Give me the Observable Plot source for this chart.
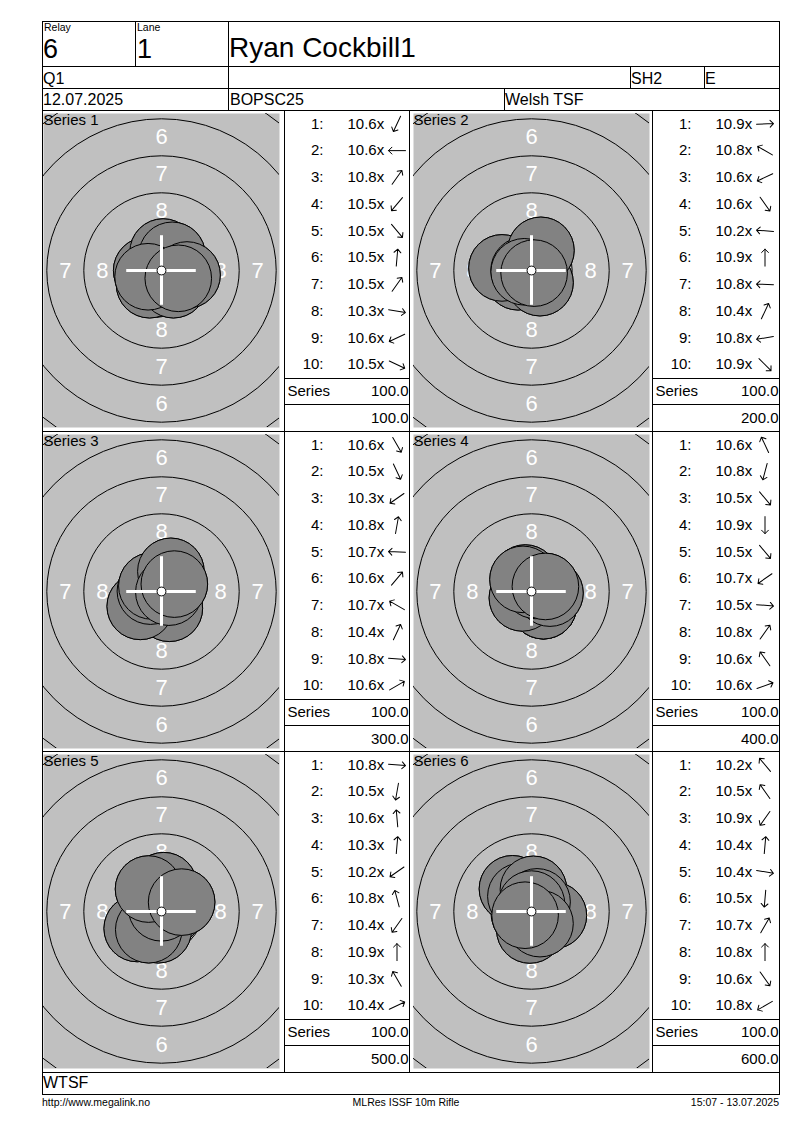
<!DOCTYPE html>
<html><head><meta charset="utf-8">
<script src="https://cdn.jsdelivr.net/npm/d3@7"></script>
<script src="https://cdn.jsdelivr.net/npm/@observablehq/plot@0.6"></script>
<style>
html,body{margin:0;padding:0;background:#fff;}
#page{position:relative;width:800px;height:1130px;font-family:"Liberation Sans",Arial,sans-serif;color:#000;overflow:hidden;}
#page div.t{position:absolute;white-space:nowrap;line-height:1;}
#page div.l{position:absolute;background:#000;}
#page .p{position:absolute;}
</style>
</head><body><div id="page"></div>
<script>
// ---------- data ----------
const relay = "6";
const lane = "1";
const shooter = "Ryan Cockbill1";
const classCode = "Q1";
const targetCode = "SH2";
const eventCode = "E";
const matchDate = "12.07.2025";
const competition = "BOPSC25";
const club = "Welsh TSF";
const footerClub = "WTSF";
const footerLeft = "http://www.megalink.no";
const footerCenter = "MLRes ISSF 10m Rifle";
const footerRight = "15:07 - 13.07.2025";

const seriesNames = ["Series 1", "Series 2", "Series 3", "Series 4", "Series 5", "Series 6"];
// decimal shot values per series
const shotScores = [
  [10.6, 10.6, 10.8, 10.5, 10.5, 10.5, 10.5, 10.3, 10.6, 10.5],
  [10.9, 10.8, 10.6, 10.6, 10.2, 10.9, 10.8, 10.4, 10.8, 10.9],
  [10.6, 10.5, 10.3, 10.8, 10.7, 10.6, 10.7, 10.4, 10.8, 10.6],
  [10.6, 10.8, 10.5, 10.9, 10.5, 10.7, 10.5, 10.8, 10.6, 10.6],
  [10.8, 10.5, 10.6, 10.3, 10.2, 10.8, 10.4, 10.9, 10.3, 10.4],
  [10.2, 10.5, 10.9, 10.4, 10.4, 10.5, 10.7, 10.8, 10.6, 10.8]
];
// direction of each shot from the centre, degrees clockwise from 12 o'clock
const shotDirections = [
  [205, 270, 35, 220, 140, 5, 35, 100, 245, 115],
  [88, 300, 245, 145, 275, 0, 272, 25, 260, 135],
  [150, 155, 235, 10, 272, 40, 300, 25, 95, 60],
  [335, 195, 140, 180, 140, 235, 95, 35, 325, 70],
  [95, 190, 355, 5, 235, 345, 215, 0, 330, 65],
  [320, 325, 215, 5, 100, 185, 30, 0, 145, 240]
];
const seriesScores = [100.0, 100.0, 100.0, 100.0, 100.0, 100.0];
const runningTotals = [100.0, 200.0, 300.0, 400.0, 500.0, 600.0];

// ISSF 10m air rifle target, ring diameters in mm (rings 1..10)
const ringDiameters = [45.5, 40.5, 35.5, 30.5, 25.5, 20.5, 15.5, 10.5, 5.5, 0.5];
const labelledRings = [6, 7, 8];
const pelletDiameter = 4.5;

// ---------- layout ----------
const page = document.getElementById("page");
const K = 14.8;                 // px per mm on the target
const rowTops = [110, 431, 751];
const rowH = 321;
const colTarget = [43, 413];
const colScore = [285, 653];
const scoreW = [124, 126];

function line(x, y, w, h) {
  const d = document.createElement("div");
  d.className = "l";
  d.style.left = x + "px"; d.style.top = y + "px";
  d.style.width = w + "px"; d.style.height = h + "px";
  page.appendChild(d);
}
function label(str, x, baseline, size, anchor = "start") {
  const d = document.createElement("div");
  d.className = "t";
  d.textContent = str;
  d.style.fontSize = size + "px";
  d.style.top = (baseline - 0.8465 * size) + "px";
  if (anchor === "end") d.style.right = (800 - x) + "px";
  else if (anchor === "middle") { d.style.left = x + "px"; d.style.transform = "translateX(-50%)"; }
  else d.style.left = x + "px";
  page.appendChild(d);
}

// frame lines
[21, 66, 88, 110, 431, 751, 1072, 1094].forEach(y => line(42, y, 738, 1));
line(42, 21, 1, 1074); line(779, 21, 1, 1074);
line(135, 21, 1, 45);
line(228, 21, 1, 89);
line(630, 66, 1, 22); line(704, 66, 1, 22);
line(504, 88, 1, 22);
[284, 409, 652].forEach(x => line(x, 110, 1, 962));
rowTops.forEach(t => {
  [[284, 125], [652, 127]].forEach(([x, w]) => {
    line(x, Math.round(t + 267.5), w, 1);
    line(x, Math.round(t + 294.25), w, 1);
  });
});

// header text
label("Relay", 44, 31, 10.5);
label("Lane", 137, 31, 10.5);
label(relay, 43, 59, 27);
label(lane, 137, 59, 27);
label(shooter, 229, 57.5, 28);
label(classCode, 43, 84.7, 16);
label(targetCode, 631, 84.7, 16);
label(eventCode, 705, 84.7, 16);
label(matchDate, 43, 106, 16);
label(competition, 230, 106, 16);
label(club, 505, 106, 16);
label(footerClub, 43, 1089, 16);
label(footerLeft, 42, 1106, 10.5);
label(footerCenter, 406, 1106, 10.5, "middle");
label(footerRight, 779, 1106, 10.5, "end");

const FONT = "Liberation Sans, Arial, sans-serif";
const NS = "http://www.w3.org/2000/svg";

function targetPlot(si) {
  const W = 236, H = 314;
  const shots = shotScores[si].map((s, i) => {
    const dist = (11 - s) * 2.5;
    const a = shotDirections[si][i] * Math.PI / 180;
    return {n: i + 1, x: dist * Math.sin(a), y: dist * Math.cos(a)};
  });
  const rings = ringDiameters.slice(0, 9).map((d, i) => ({ring: i + 1, r: d / 2}));
  const labels = [];
  for (const n of labelledRings) {
    const m = (ringDiameters[n - 1] + ringDiameters[n]) / 4;
    labels.push({t: n, x: 0, y: m}, {t: n, x: 0, y: -m}, {t: n, x: m, y: 0}, {t: n, x: -m, y: 0});
  }
  const cross = 2.35;
  const svg = Plot.plot({
    width: W, height: H, margin: 0,
    x: {domain: [-W / 2 / K, W / 2 / K], axis: null},
    y: {domain: [-H / 2 / K, H / 2 / K], axis: null},
    r: {type: "linear", domain: [0, 10], range: [0, 10 * K]},
    style: {background: "transparent", overflow: "visible", fontFamily: FONT},
    marks: [
      Plot.frame({fill: "#c0c0c0", stroke: null}),
      Plot.dot(rings, {x: 0, y: 0, r: "r", stroke: "black", fill: "none", strokeWidth: 1, clip: "frame", sort: null}),
      Plot.text(labels, {x: "x", y: "y", text: d => String(d.t), fill: "white", fontSize: 22, clip: "frame"}),
      Plot.dot(shots, {x: "x", y: "y", r: () => pelletDiameter / 2, fill: "#6c6c6c", stroke: "black", strokeWidth: 1, sort: null}),
      Plot.dot(shots, {x: "x", y: "y", r: () => pelletDiameter / 2, fill: "#828282", stroke: "black", strokeWidth: 1, sort: null, ariaLabel: "inner-shots"}),
      Plot.ruleX([0], {y1: -cross, y2: cross, stroke: "white", strokeWidth: 3}),
      Plot.ruleY([0], {x1: -cross, x2: cross, stroke: "white", strokeWidth: 3}),
      Plot.dot([0], {x: 0, y: 0, r: () => ringDiameters[9] / 2 + 0.05, fill: "white", stroke: "black", strokeWidth: 1}),
      Plot.text([seriesNames[si]], {text: d => d, frameAnchor: "top-left", textAnchor: "start", lineAnchor: "top", dx: 0, dy: 1, fontSize: 15, fill: "black"})
    ]
  });
  // the part of each shot inside the 9 ring is drawn lighter
  const g = svg.querySelector('g[aria-label="inner-shots"]');
  if (g) {
    const defs = document.createElementNS(NS, "defs");
    const cp = document.createElementNS(NS, "clipPath");
    cp.setAttribute("id", "ring9clip" + si);
    const c = document.createElementNS(NS, "circle");
    c.setAttribute("cx", svg.scale("x").apply(0));
    c.setAttribute("cy", svg.scale("y").apply(0));
    c.setAttribute("r", svg.scale("r").apply(ringDiameters[8] / 2));
    cp.appendChild(c); defs.appendChild(cp); svg.insertBefore(defs, svg.firstChild);
    g.setAttribute("clip-path", `url(#ring9clip${si})`);
  }
  return svg;
}

function scorePlot(si, w) {
  const rowKeys = d3.range(1, 11).map(String).concat(["Series", "Total"]);
  const rows = shotScores[si].map((s, i) => ({key: String(i + 1), n: i + 1, s, dir: shotDirections[si][i]}));
  return Plot.plot({
    width: w, height: rowH, margin: 0,
    y: {type: "band", domain: rowKeys, padding: 0, round: false, axis: null},
    style: {background: "transparent", overflow: "visible", fontFamily: FONT},
    marks: [
      Plot.text(rows, {y: "key", text: d => `${d.n}:`, frameAnchor: "left", textAnchor: "end", dx: 38, fontSize: 15, fill: "black"}),
      Plot.text(rows, {y: "key", text: d => d.s.toFixed(1) + "x", frameAnchor: "left", textAnchor: "start", dx: 62, fontSize: 15, fill: "black"}),
      Plot.vector(rows, {y: "key", rotate: "dir", length: 17, anchor: "middle", frameAnchor: "left", dx: 111.5, stroke: "black", strokeWidth: 1}),
      Plot.text(["Series"], {y: () => "Series", text: d => d, frameAnchor: "left", textAnchor: "start", dx: 2, fontSize: 15, fill: "black"}),
      Plot.text([seriesScores[si]], {y: () => "Series", text: d => d.toFixed(1), frameAnchor: "right", textAnchor: "end", dx: -1, fontSize: 15, fill: "black"}),
      Plot.text([runningTotals[si]], {y: () => "Total", text: d => d.toFixed(1), frameAnchor: "right", textAnchor: "end", dx: -1, fontSize: 15, fill: "black"})
    ]
  });
}

seriesNames.forEach((name, si) => {
  const r = Math.floor(si / 2), c = si % 2;
  const tDiv = document.createElement("div");
  tDiv.className = "p";
  tDiv.style.left = colTarget[c] + "px";
  tDiv.style.top = (rowTops[r] + 3) + "px";
  tDiv.appendChild(targetPlot(si));
  page.appendChild(tDiv);
  const sDiv = document.createElement("div");
  sDiv.className = "p";
  sDiv.style.left = colScore[c] + "px";
  sDiv.style.top = rowTops[r] + "px";
  sDiv.appendChild(scorePlot(si, scoreW[c]));
  page.appendChild(sDiv);
});
</script>
</body></html>
